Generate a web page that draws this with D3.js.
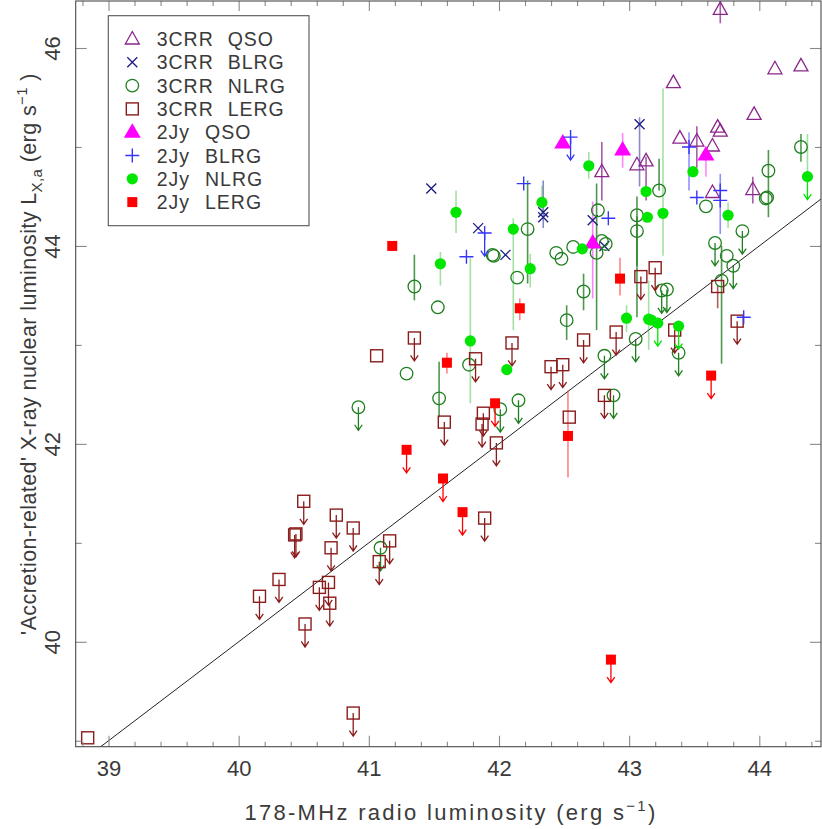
<!DOCTYPE html>
<html><head><meta charset="utf-8">
<script src="https://cdn.jsdelivr.net/npm/d3@7/dist/d3.min.js"></script>
<style>
body{margin:0;background:#fff}
svg{display:block}
text{font-family:"Liberation Sans",Arial,sans-serif;fill:#3a3a3a}
</style>
</head><body>
<svg id="c" width="822" height="829"></svg>
<script>
// ---- data: [log L178, log LX,a, upperLimit(1/0), errLo, errHi] ----
const q3crr = [
  [43.70,46.39,0,46.25,46.50],[43.34,45.65,0],[44.12,45.79,0],[44.32,45.82,0],
  [43.96,45.33,0],[43.68,45.20,0],[43.70,45.16,0],[43.39,45.09,0],
  [43.52,45.06,0,44.79,45.21],[43.64,45.01,0],[42.79,44.75,0,44.46,45.05],
  [43.06,44.82,0],[43.13,44.86,0,44.46,44.90],[43.64,44.54,0],[43.95,44.57,0,44.43,44.70]
];
const b3crr = [
  [43.08,45.23,0,44.60,45.30],[42.72,44.26,0],[42.81,44.00,0],[41.48,44.58,0],
  [41.84,44.18,0],[42.05,43.91,0],[42.34,44.34,0],[42.34,44.29,0,44.18,44.66]
];
const n3crr = [
  [41.35,43.59,0,43.45,43.91],[41.53,43.38,0],[41.95,43.91,0],[41.96,43.90,0],
  [42.22,44.17,0,43.62,44.66],[42.14,43.68,0],[42.44,43.93,0],[42.48,43.87,0],
  [42.57,43.99,0],[42.76,44.36,0],[42.75,43.93,0,43.15,44.63],[42.65,43.54,0,43.35,43.72],
  [42.52,43.25,0,43.05,43.40],[42.79,44.05,0],[42.82,44.02,0],[43.06,44.31,0,43.80,44.50],
  [43.06,44.15,0,43.28,44.30],[43.23,44.56,0,44.56,44.88],[43.59,44.40,0],[44.07,44.76,0,44.29,44.97],
  [44.05,44.48,0],[44.06,44.49,0],[44.32,45.00,0,44.85,45.13],[43.87,44.15,1],
  [43.66,44.03,1],[43.75,43.90,0],[43.80,43.80,1],[43.71,43.65,0,42.81,44.00],
  [43.25,43.55,1],[43.29,43.56,1],[43.05,43.06,1],[42.81,42.89,1],
  [43.38,42.92,1],[42.88,42.49,1],[41.29,42.71,0],[41.77,42.80,0],
  [41.54,42.46,0,42.27,42.83],[40.92,42.37,1],[42.01,42.35,1],[42.15,42.44,1],[41.09,40.95,1]
];
const l3crr = [
  [41.06,42.89,0],[41.35,43.07,1],[41.82,42.86,1],[42.10,43.02,1],[42.40,42.78,1],
  [42.49,42.80,1],[42.65,43.05,1],[41.58,42.22,1],[41.88,42.31,1],[41.87,42.20,1],
  [41.98,42.01,1],[42.54,42.27,0],[42.81,42.49,1],[40.75,41.28,1],[40.88,41.15,1],
  [41.89,41.25,1],[43.20,43.78,1],[43.09,43.69,1],[43.68,43.59,0,43.37,43.60],[42.90,43.13,1],
  [43.35,43.15,1],[43.83,43.24,1],[38.84,39.03,0],[40.50,41.42,1],[40.44,41.09,1],
  [40.43,41.08,1],[40.71,40.95,1],[41.16,41.02,1],[41.08,40.81,1],[40.31,40.63,1],
  [40.16,40.46,1],[40.62,40.55,1],[40.69,40.60,1],[40.70,40.39,1],[40.51,40.18,1],[40.88,39.28,1]
];
const q2jy = [
  [42.49,45.04,0],[42.95,44.97,0,44.79,45.14],[43.59,44.92,0,44.70,44.97],[42.72,44.03,0,43.47,44.45]
];
const b2jy = [
  [42.55,45.10,1],[42.19,44.63,0],[41.89,44.13,1],[41.75,43.89,0],[43.46,45.00,0,44.56,45.15],
  [42.84,44.28,0],[43.52,44.49,0],[43.70,44.56,0,44.12,44.73],[43.70,44.46,0],[43.88,43.28,0]
];
const n2jy = [
  [42.69,44.81,0,44.68,44.95],[41.67,44.34,0,44.13,44.56],[42.33,44.44,0,44.33,44.61],
  [42.11,44.17,0,43.15,44.28],[42.24,43.77,0,43.58,43.92],[41.55,43.82,0,43.60,43.94],
  [42.64,43.97,0],[43.13,44.55,0],[43.14,44.29,0],[43.26,44.33,0,43.90,45.59],
  [43.49,44.75,0],[43.76,44.31,0,44.18,44.44],[44.37,44.70,1,44.70,45.13],
  [42.98,43.27,0,43.13,43.40],[43.15,43.26,0,42.95,43.65],[43.17,43.25,0],
  [43.22,43.22,1],[43.38,43.19,1],[41.78,43.04,0,42.41,43.88],[42.06,42.75,0]
];
const l2jy = [
  [42.16,43.37,0,43.25,43.47],[41.60,42.82,0,42.71,42.92],[41.97,42.41,1],[41.29,41.94,1],
  [41.57,41.65,1],[41.72,41.31,1],[42.53,42.08,0,41.66,42.54],[41.18,44.00,0],
  [42.93,43.67,0,43.50,43.88],[43.63,42.69,1],[42.86,39.82,1]
];
const xMajor = [39,40,41,42,43,44];
const yMajor = [40,42,44,46];
const yMinor = [39,41,43,45];
const legendType = ["3CRR","3CRR","3CRR","3CRR","2Jy","2Jy","2Jy","2Jy"];
const legendClass = ["QSO","BLRG","NLRG","LERG","QSO","BLRG","NLRG","LERG"];
const fitLine = [[38.7,38.7],[44.5,44.5]];
const xTitle = "178-MHz radio luminosity (erg s";
const yTitleA = "'Accretion-related' X-ray nuclear luminosity L";

// ---- layout ----
const P = {l:75.7, r:821, t:1, b:746.7};
const x = d3.scaleLinear().domain([38.748,44.474]).range([P.l,P.r]);
const y = d3.scaleLinear().domain([38.94,46.475]).range([P.b,P.t]);
const svg = d3.select("#c");

const series = [
  {d:q3crr, sym:"triO",  col:"#8b268b", ecol:"#8b268b", eop:0.75},
  {d:b3crr, sym:"cross", col:"#1c1c86", ecol:"#3a3aa0", eop:0.6},
  {d:n3crr, sym:"circO", col:"#1f7f1f", ecol:"#1f7f1f", eop:0.8},
  {d:l3crr, sym:"sqO",   col:"#8b1c1c", ecol:"#8b1c1c", eop:0.7},
  {d:q2jy,  sym:"triF",  col:"#ff00ff", ecol:"#ff33ff", eop:0.6},
  {d:b2jy,  sym:"plus",  col:"#3535ff", ecol:"#3535ff", eop:0.55},
  {d:n2jy,  sym:"circF", col:"#00e600", ecol:"#33bb33", eop:0.45},
  {d:l2jy,  sym:"sqF",   col:"#ff0000", ecol:"#ff3333", eop:0.6}
];

function drawSym(g, sym, col){
  if(sym==="triO") g.append("path").attr("d","M0,-7.5L7,5L-7,5Z").attr("fill","none").attr("stroke",col).attr("stroke-width",1.3);
  if(sym==="triF") g.append("path").attr("d","M0,-9L8.5,5.5L-8.5,5.5Z").attr("fill",col);
  if(sym==="cross") g.append("path").attr("d","M-5,-5L5,5M-5,5L5,-5").attr("stroke",col).attr("stroke-width",1.3);
  if(sym==="plus") g.append("path").attr("d","M-7,0H7M0,-7V7").attr("stroke",col).attr("stroke-width",1.4);
  if(sym==="circO") g.append("circle").attr("r",6.3).attr("fill","none").attr("stroke",col).attr("stroke-width",1.3);
  if(sym==="circF") g.append("circle").attr("r",5.6).attr("fill",col);
  if(sym==="sqO") g.append("rect").attr("x",-6).attr("y",-6).attr("width",12).attr("height",12).attr("fill","none").attr("stroke",col).attr("stroke-width",1.4);
  if(sym==="sqF") g.append("rect").attr("x",-5).attr("y",-5).attr("width",10).attr("height",10).attr("fill",col);
}

svg.append("defs").append("clipPath").attr("id","clip")
  .append("rect").attr("x",P.l).attr("y",P.t).attr("width",P.r-P.l).attr("height",P.b-P.t);

const plot = svg.append("g").attr("clip-path","url(#clip)");

// regression line
plot.append("line")
  .attr("x1",x(fitLine[0][0])).attr("y1",y(fitLine[0][1]))
  .attr("x2",x(fitLine[1][0])).attr("y2",y(fitLine[1][1]))
  .attr("stroke","#222").attr("stroke-width",1);

// error bars
series.forEach(s=>{
  plot.append("g").selectAll("line").data(s.d.filter(p=>p.length>4)).join("line")
    .attr("x1",p=>x(p[0])).attr("x2",p=>x(p[0]))
    .attr("y1",p=>y(p[3])).attr("y2",p=>y(p[4]))
    .attr("stroke",s.ecol).attr("stroke-opacity",s.eop).attr("stroke-width",1.6);
});

// symbols & upper limit arrows
series.forEach(s=>{
  const g = plot.append("g");
  s.d.forEach(p=>{
    const pg = g.append("g").attr("transform",`translate(${x(p[0])},${y(p[1])})`);
    if(p[2]){
      pg.append("path").attr("d","M0,0V23M-3.8,17.5L0,23L3.8,17.5")
        .attr("fill","none").attr("stroke",s.col).attr("stroke-width",1.3);
    }
    drawSym(pg, s.sym, s.col);
  });
});

// axes
const tickCol = "#8a8a8a";
function styleAxis(g){ g.select(".domain").remove(); g.selectAll("line").attr("stroke",tickCol).attr("stroke-width",1.1); }
const xMinor = d3.range(38.8,44.5,0.2).map(v=>+v.toFixed(1)).filter(v=>!xMajor.includes(v));

svg.append("g").attr("transform",`translate(0,${P.b})`)
  .call(d3.axisBottom(x).tickValues(xMajor).tickSize(-11).tickSizeOuter(0).tickPadding(13.5).tickFormat(d3.format("d")))
  .call(styleAxis)
  .call(g=>g.selectAll("text").attr("font-size",22).attr("font-family","Liberation Sans, Arial, sans-serif").attr("fill","#3a3a3a"));
svg.append("g").attr("transform",`translate(0,${P.b})`)
  .call(d3.axisBottom(x).tickValues(xMinor).tickSize(-5).tickSizeOuter(0).tickFormat(""))
  .call(styleAxis);
svg.append("g").attr("transform",`translate(0,${P.t})`)
  .call(d3.axisTop(x).tickValues(xMajor).tickSize(-10).tickSizeOuter(0).tickFormat(""))
  .call(styleAxis);
svg.append("g").attr("transform",`translate(0,${P.t})`)
  .call(d3.axisTop(x).tickValues(xMinor).tickSize(-5).tickSizeOuter(0).tickFormat(""))
  .call(styleAxis);

svg.append("g").attr("transform",`translate(${P.l},0)`)
  .call(d3.axisLeft(y).tickValues(yMajor).tickSize(-11).tickSizeOuter(0).tickFormat(d3.format("d")))
  .call(styleAxis)
  .call(g=>g.selectAll("text").attr("font-size",22).attr("font-family","Liberation Sans, Arial, sans-serif")
      .attr("fill","#3a3a3a").attr("text-anchor","middle").attr("x",0).attr("y",-16).attr("dy",0)
      .attr("transform","rotate(-90)"));
svg.append("g").attr("transform",`translate(${P.l},0)`)
  .call(d3.axisLeft(y).tickValues(yMinor).tickSize(-6).tickSizeOuter(0).tickFormat(""))
  .call(styleAxis);
svg.append("g").attr("transform",`translate(${P.r},0)`)
  .call(d3.axisRight(y).tickValues(yMajor).tickSize(-11).tickSizeOuter(0).tickFormat(""))
  .call(styleAxis);
svg.append("g").attr("transform",`translate(${P.r},0)`)
  .call(d3.axisRight(y).tickValues(yMinor).tickSize(-6).tickSizeOuter(0).tickFormat(""))
  .call(styleAxis);

// frame
svg.append("rect").attr("x",P.l).attr("y",P.t).attr("width",P.r-P.l).attr("height",P.b-P.t)
  .attr("fill","none").attr("stroke","#4a4a4a").attr("stroke-width",1.1);

// axis titles
const xt = svg.append("text").attr("x",451).attr("y",820).attr("text-anchor","middle")
  .attr("font-size",22).attr("letter-spacing",2.3);
xt.append("tspan").text(xTitle);
xt.append("tspan").attr("dy",-9).attr("font-size",15).text("−1");
xt.append("tspan").attr("dy",9).text(")");

const yt = svg.append("text").attr("transform","translate(36,354) rotate(-90)").attr("text-anchor","middle")
  .attr("font-size",21.5).attr("letter-spacing",0.4);
yt.append("tspan").text(yTitleA);
yt.append("tspan").attr("dy",6).attr("font-size",15).text("X,a");
yt.append("tspan").attr("dy",-6).text(" (erg s");
yt.append("tspan").attr("dy",-9).attr("font-size",15).text("−1");
yt.append("tspan").attr("dy",9).text(" )");

// legend
const L = {x:108.3, y:15.7, w:200.7, h:210};
svg.append("rect").attr("x",L.x).attr("y",L.y).attr("width",L.w).attr("height",L.h)
  .attr("fill","#fff").attr("stroke","#555").attr("stroke-width",1.1);
legendType.forEach((t,i)=>{
  const cy = 39 + 23.3*i;
  const g = svg.append("g").attr("transform",`translate(132.3,${cy})`);
  drawSym(g, series[i].sym, series[i].col);
  svg.append("text").attr("x",156.7).attr("y",cy+7).attr("font-size",19.5).attr("letter-spacing",1).text(t);
  svg.append("text").attr("x",t==="3CRR"?227.7:205).attr("y",cy+7).attr("font-size",19.5).attr("letter-spacing",1).text(legendClass[i]);
});
</script>
</body></html>
